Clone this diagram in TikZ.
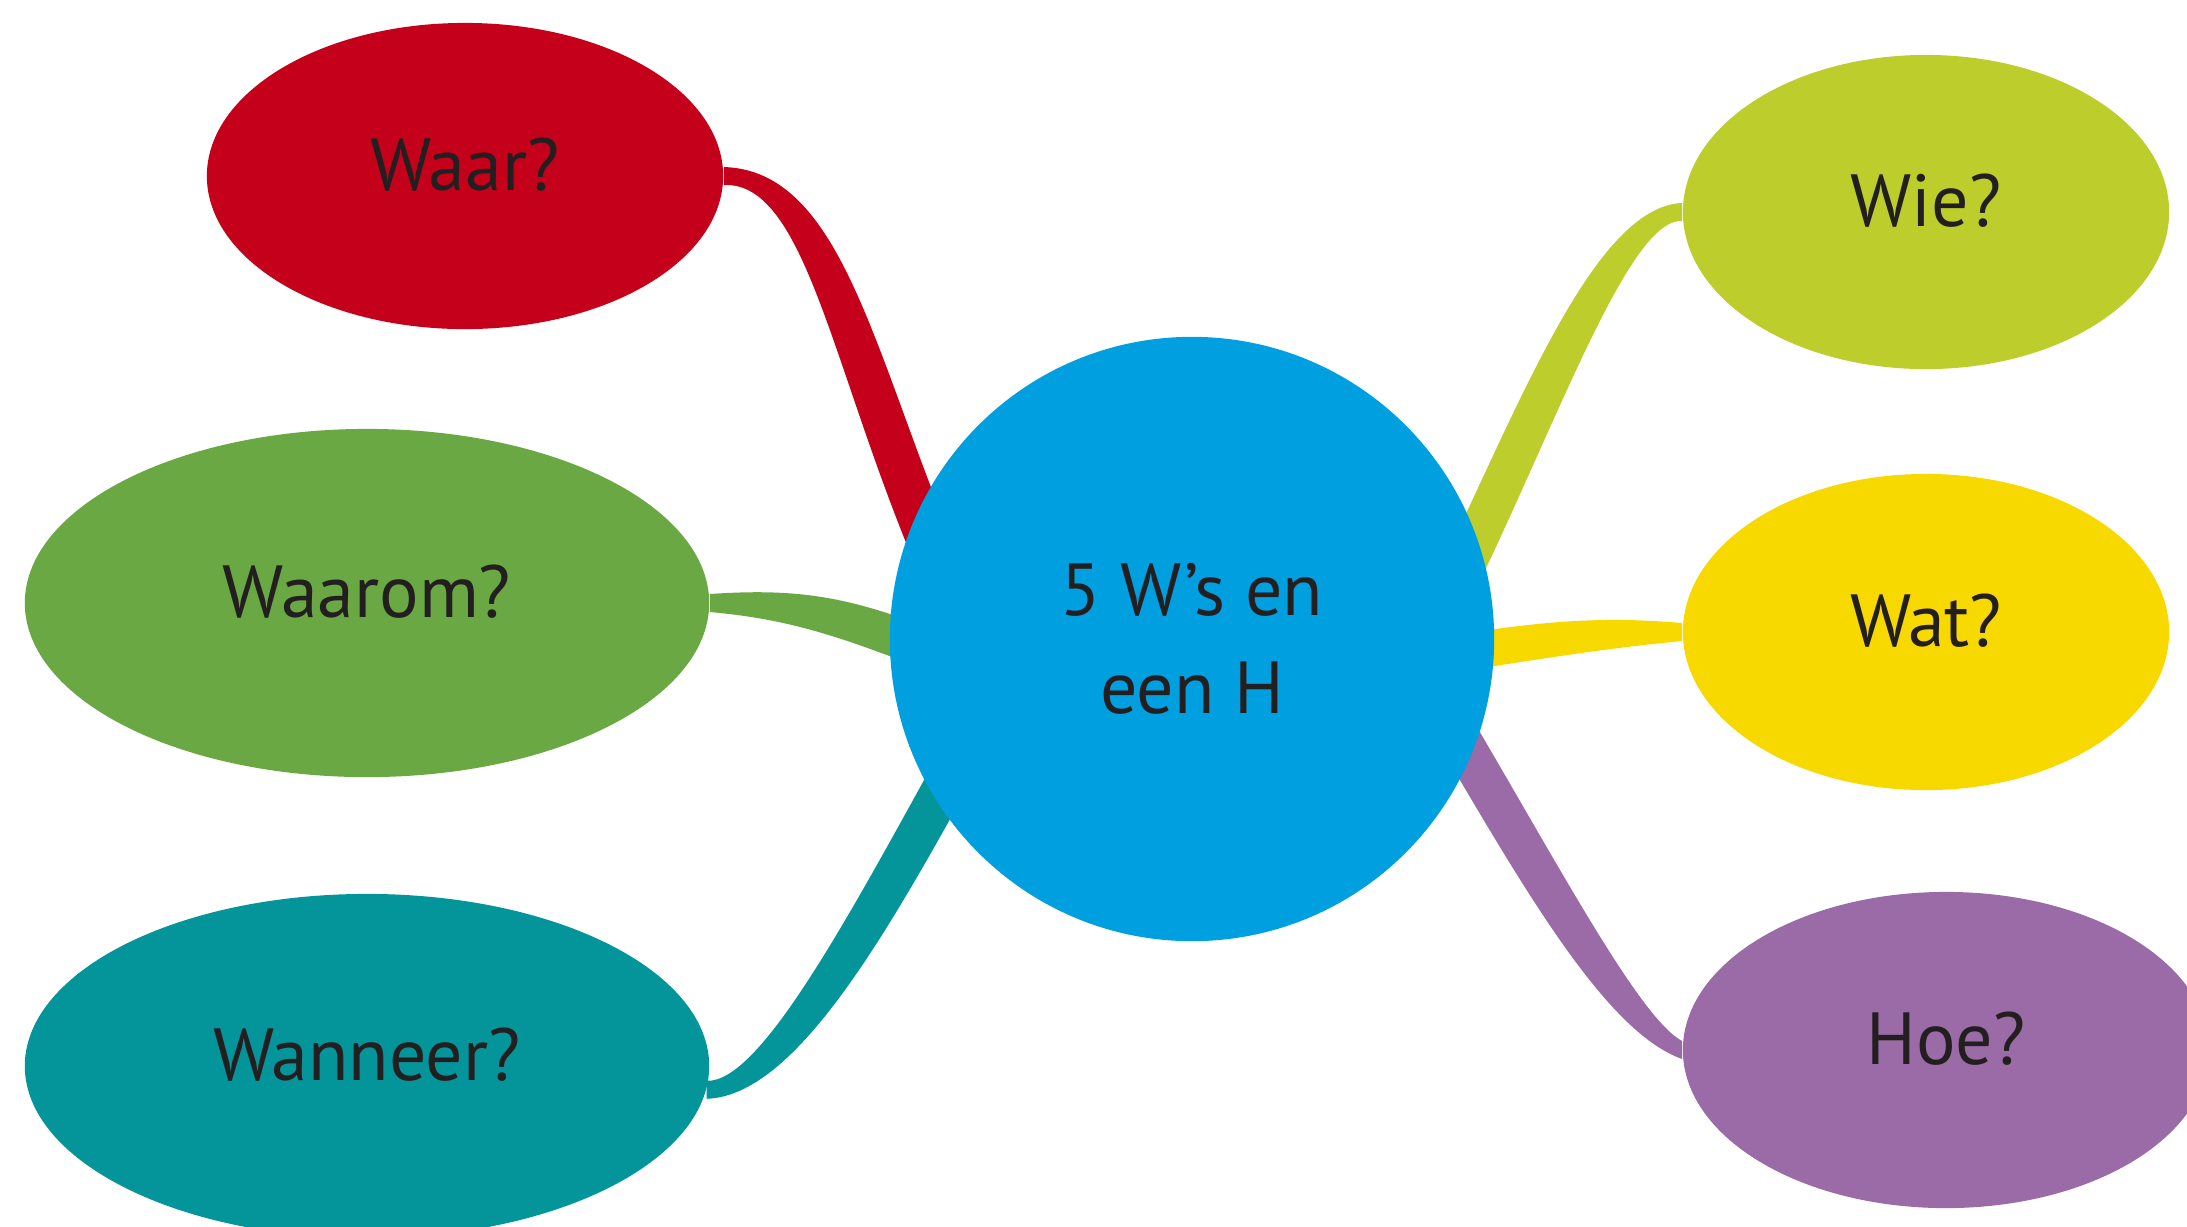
\documentclass[tikz,border=0pt]{standalone}
\usepackage{fontspec}
\setmainfont{PT Sans}
\usepackage{xcolor}
\usetikzlibrary{shapes.geometric, positioning, calc, backgrounds}

\definecolor{hubblue}{HTML}{009FE0}
\definecolor{waarred}{HTML}{C4001A}
\definecolor{waaromgreen}{HTML}{6AA843}
\definecolor{wanneerteal}{HTML}{04959B}
\definecolor{wielime}{HTML}{BDCD2C}
\definecolor{watyellow}{HTML}{F7D900}
\definecolor{hoepurple}{HTML}{9A6BA6}
\definecolor{textgrey}{HTML}{231F20}

% tapered branch: colour, from, to, out, in, half width at the hub
\newcommand{\branch}[6]{%
  \fill[#1] ($(#2)+(0,-9)$) .. controls ($(#2)+(#4)+0.9*(#6)$) and ($(#3)+(#5)+(#6)$) .. ($(#3)!0.12!(hub.center)+(#6)$)
    -- ($(#3)!0.12!(hub.center)-(#6)$) .. controls ($(#3)+(#5)-(#6)$) and ($(#2)+(#4)-0.9*(#6)$) .. ($(#2)+(0,9)$) -- cycle;}

\begin{document}
\begin{tikzpicture}[
    x=0.01cm, y=-0.01cm,
    bubble/.style={ellipse, inner sep=0pt, text=textgrey, text height=0.55cm, text depth=0.27cm, font=\fontsize{21}{28}\selectfont},
    hubnode/.style={circle, fill=hubblue, minimum size=6.04cm, inner sep=0pt, align=center, text=textgrey, font=\fontsize{21}{28}\selectfont}
]
\useasboundingbox (0,0) rectangle (2187,1226);

\node[hubnode] (hub) at (1192,639) {5 W’s en\\een H};

\node[bubble, fill=waarred, minimum width=5.16cm, minimum height=3.06cm] (waar) at (465,176) {Waar?};
\node[bubble, fill=waaromgreen, minimum width=6.84cm, minimum height=3.48cm] (waarom) at (367,603) {Waarom?};
\node[bubble, fill=wanneerteal, minimum width=6.84cm, minimum height=3.44cm] (wanneer) at (367,1066) {Wanneer?};
\node[bubble, fill=wielime, minimum width=4.86cm, minimum height=3.14cm] (wie) at (1926,212) {Wie?};
\node[bubble, fill=watyellow, minimum width=4.86cm, minimum height=3.16cm] (wat) at (1926,632) {Wat?};
\node[bubble, fill=hoepurple, minimum width=5.26cm, minimum height=3.16cm] (hoe) at (1946,1050) {Hoe?};

\begin{scope}[on background layer]
\branch{waarred}{waar.east}{hub.163}{100,0}{-50,-190}{21,-6}
\branch{waaromgreen}{waarom.east}{hub.182}{80,0}{-50,-35}{12,-17}
\branch{wanneerteal}{wanneer.-4}{hub.208}{70,0}{-60,150}{-20,-7}
\branch{wielime}{wie.west}{hub.11}{-70,0}{50,-170}{-20,-6}
\branch{watyellow}{wat.west}{hub.-3}{-80,0}{50,-15}{-4,-18}
\branch{hoepurple}{hoe.west}{hub.-17}{-60,-25}{60,150}{20,-7}
\end{scope}

\end{tikzpicture}
\end{document}
